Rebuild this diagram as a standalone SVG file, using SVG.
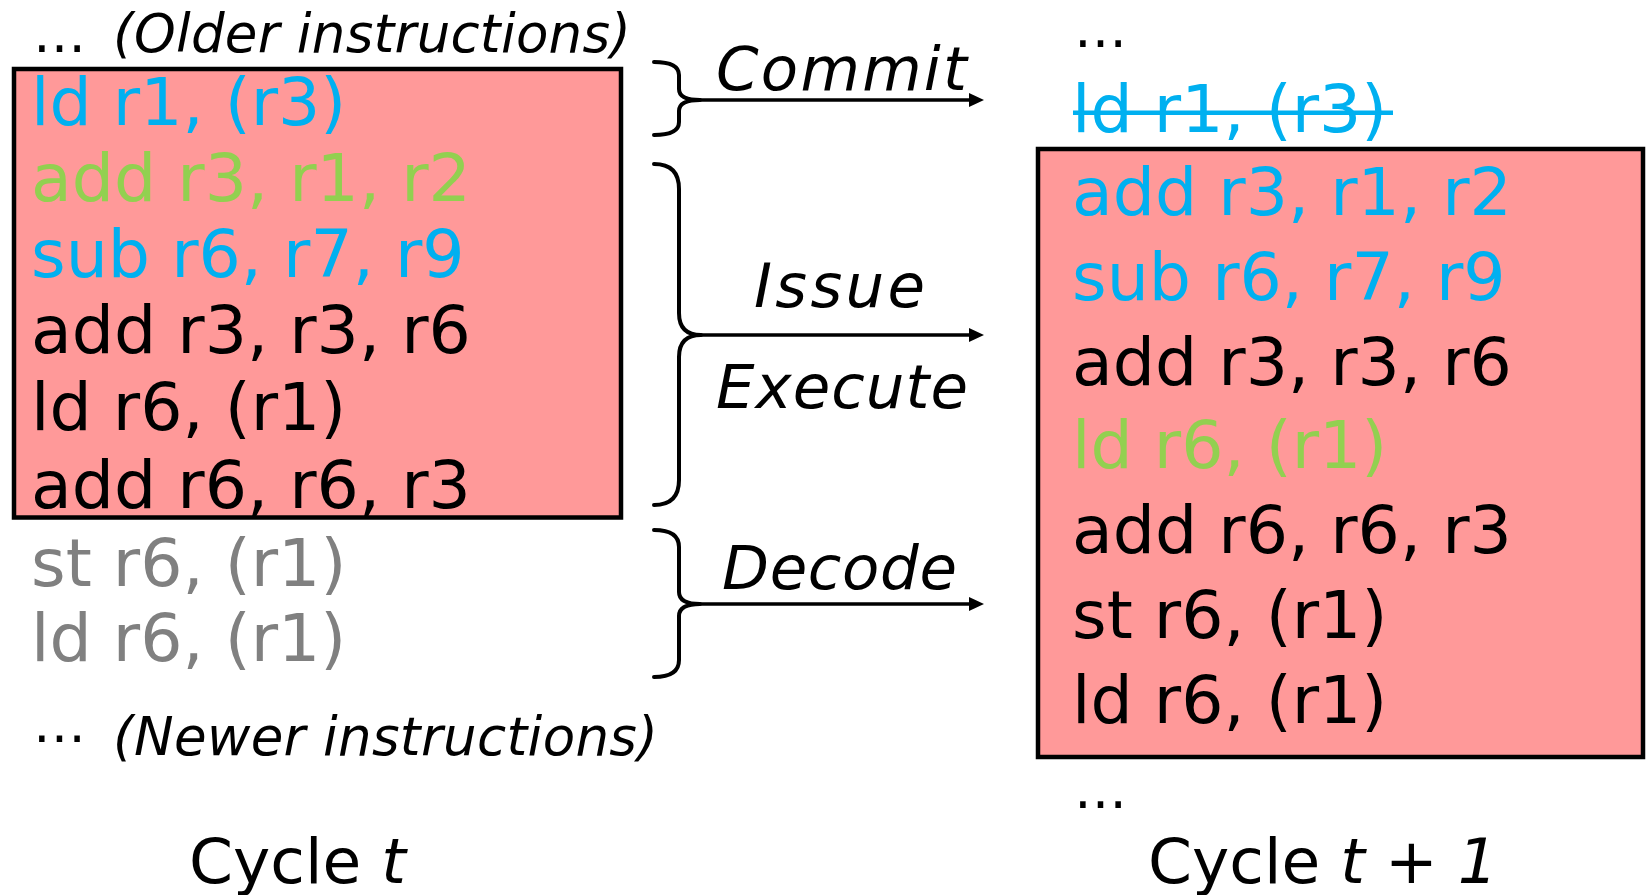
<svg xmlns="http://www.w3.org/2000/svg" width="1646" height="895" viewBox="0 0 1646 895">
<style>
text{font-family:"DejaVu Sans",Verdana,sans-serif;}
.ins{font-size:66.5px;}
.note{font-size:53px;}
.lbl{font-size:61px;font-style:italic;}
.cyc{font-size:63px;}
.it{font-style:italic;}
.blue{fill:#00B0F0;}
.green{fill:#92D050;}
.gray{fill:#808080;}
.blk{fill:#000;}
.box{fill:#FF9999;stroke:#000;stroke-width:4.5;}
.brace{fill:none;stroke:#000;stroke-width:4;stroke-linecap:round;stroke-linejoin:round;}
.arr{stroke:#000;stroke-width:3.5;marker-end:url(#ah);}
</style>
<defs>
<marker id="ah" viewBox="0 0 15 14" refX="7" refY="7" markerWidth="15" markerHeight="14" markerUnits="userSpaceOnUse" orient="auto">
<path d="M0,0 L15,7 L0,14 z" fill="#000"/>
</marker>
</defs>
<rect width="1646" height="895" fill="#fff"/>
<g id="cycle-t">
<rect class="box" x="14" y="69" width="607" height="448.5"/>
<text class="note" x="33" y="52" textLength="50">…</text>
<text class="note it" x="113" y="52" textLength="518">(Older instructions)</text>
<text class="ins blue" x="31" y="125">ld r1, (r3)</text>
<text class="ins green" x="31" y="201">add r3, r1, r2</text>
<text class="ins blue" x="31" y="277">sub r6, r7, r9</text>
<text class="ins blk" x="31" y="353">add r3, r3, r6</text>
<text class="ins blk" x="31" y="430">ld r6, (r1)</text>
<text class="ins blk" x="31" y="508">add r6, r6, r3</text>
<text class="ins gray" x="31" y="586">st r6, (r1)</text>
<text class="ins gray" x="31" y="661">ld r6, (r1)</text>
<text class="note" x="33" y="755" textLength="50">⋯</text>
<text class="note it" x="113" y="755" textLength="545">(Newer instructions)</text>
<text class="cyc" x="189" y="883">Cycle <tspan class="it">t</tspan></text>
</g>
<g id="cycle-t1">
<rect class="box" x="1038" y="149" width="605" height="608"/>
<text class="note" x="1074" y="47" textLength="48">…</text>
<text class="ins blue" x="1072" y="132">ld r1, (r3)</text>
<line x1="1073" y1="112.7" x2="1393" y2="112.7" stroke="#00B0F0" stroke-width="4.5"/>
<text class="ins blue" x="1072" y="215">add r3, r1, r2</text>
<text class="ins blue" x="1072" y="300">sub r6, r7, r9</text>
<text class="ins blk" x="1072" y="385">add r3, r3, r6</text>
<text class="ins green" x="1072" y="468">ld r6, (r1)</text>
<text class="ins blk" x="1072" y="553">add r6, r6, r3</text>
<text class="ins blk" x="1072" y="638">st r6, (r1)</text>
<text class="ins blk" x="1072" y="723">ld r6, (r1)</text>
<text class="note" x="1074" y="808" textLength="48">…</text>
<text class="cyc" x="1148" y="883">Cycle <tspan class="it">t</tspan> + <tspan class="it">1</tspan></text>
</g>
<g id="commit">
<path class="brace" d="M654,62 Q679,62 679,75 L679,89 Q679,100 700,100 Q679,100 679,111 L679,122 Q679,135 654,135"/>
<text class="lbl" x="716" y="90" textLength="251">Commit</text>
</g>
<g id="issue-execute">
<path class="brace" d="M654,164 Q679,164 679,189 L679,313 Q679,335 701,335 Q679,335 679,357 L679,480 Q679,505 654,505"/>
<text class="lbl" x="754" y="307" textLength="171">Issue</text>
<text class="lbl" x="716" y="408" textLength="252">Execute</text>
</g>
<g id="decode">
<path class="brace" d="M654,530 Q679,530 679,547 L679,592 Q679,604 700,604 Q679,604 679,616 L679,660 Q679,677 654,677"/>
<text class="lbl" x="722" y="589" textLength="235">Decode</text>
</g>
<g id="connectors">
<line class="arr" x1="696" y1="100" x2="976" y2="100"/>
<line class="arr" x1="697" y1="335" x2="976" y2="335"/>
<line class="arr" x1="696" y1="604" x2="976" y2="604"/>
</g>
</svg>
